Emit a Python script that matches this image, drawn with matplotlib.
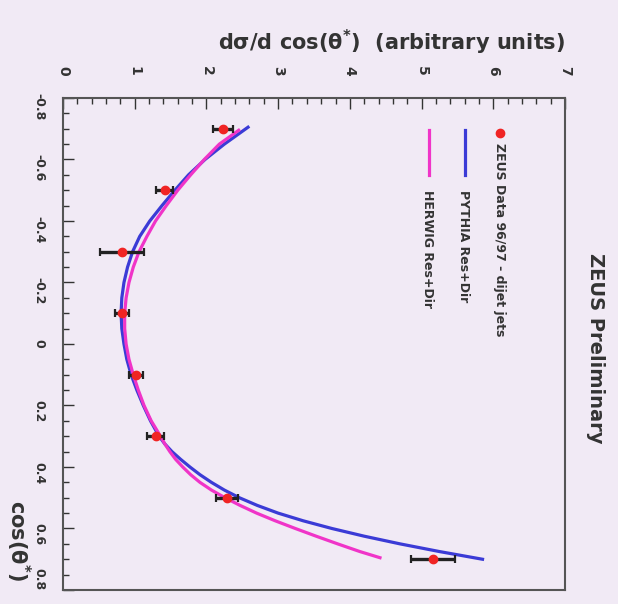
import numpy as np
import matplotlib
matplotlib.use("Agg")
import matplotlib.pyplot as plt
from matplotlib.ticker import MultipleLocator

plt.rcParams['font.family'] = ['DejaVu Sans']
plt.rcParams['font.weight'] = 'bold'
plt.rcParams['mathtext.default'] = 'bf'

# --- data (cos theta*, dsigma/dcos) -----------------------------------------
data_cos = [-0.7, -0.5, -0.3, -0.1, 0.1, 0.3, 0.5, 0.7]
data_val = [2.23, 1.42, 0.82, 0.82, 1.02, 1.29, 2.29, 5.16]
data_err = [0.14, 0.12, 0.31, 0.10, 0.10, 0.12, 0.15, 0.31]

pythia_cos = [-0.705, -0.65, -0.60, -0.55, -0.50, -0.45, -0.40, -0.35, -0.30, -0.25,
              -0.20, -0.15, -0.10, -0.05, 0.00, 0.05, 0.10, 0.15, 0.20, 0.25,
              0.30, 0.325, 0.35, 0.375, 0.40, 0.425, 0.45, 0.475, 0.50, 0.525,
              0.55, 0.575, 0.60, 0.625, 0.65, 0.675, 0.70]
pythia_val = [2.58, 2.25, 1.98, 1.75, 1.56, 1.38, 1.21, 1.07, 0.97, 0.90,
              0.85, 0.82, 0.81, 0.82, 0.85, 0.89, 0.95, 1.03, 1.12, 1.22,
              1.34, 1.42, 1.52, 1.64, 1.77, 1.91, 2.07, 2.25, 2.46, 2.71,
              3.00, 3.35, 3.75, 4.20, 4.70, 5.25, 5.85]

herwig_cos = [-0.695, -0.65, -0.60, -0.55, -0.50, -0.45, -0.40, -0.35, -0.30, -0.25,
              -0.20, -0.15, -0.10, -0.05, 0.00, 0.05, 0.10, 0.15, 0.20, 0.25,
              0.30, 0.325, 0.35, 0.375, 0.40, 0.425, 0.45, 0.475, 0.50, 0.525,
              0.55, 0.575, 0.60, 0.625, 0.65, 0.675, 0.695]
herwig_val = [2.45, 2.18, 1.97, 1.78, 1.60, 1.44, 1.29, 1.17, 1.06, 0.98,
              0.92, 0.88, 0.86, 0.86, 0.88, 0.92, 0.98, 1.05, 1.13, 1.23,
              1.36, 1.42, 1.49, 1.57, 1.67, 1.78, 1.91, 2.07, 2.26, 2.47,
              2.70, 2.96, 3.24, 3.53, 3.83, 4.14, 4.42]

bg = '#f1eaf5'
ink = '#333333'
c_blue = '#3b3bd6'
c_pink = '#f034c8'
c_red = '#f02424'

fig = plt.figure(figsize=(6.18, 6.04), dpi=100, facecolor=bg)
ax = fig.add_axes([63 / 618, 1 - 590 / 604, 502 / 618, 492 / 604], facecolor=bg)

# figure is drawn rotated: dsigma runs left->right, cos runs top->bottom
ax.plot(pythia_val, pythia_cos, color=c_blue, lw=2.3, zorder=3)
ax.plot(herwig_val, herwig_cos, color=c_pink, lw=2.3, zorder=3)
ax.errorbar(data_val, data_cos, xerr=data_err, fmt='none', ecolor='#222222',
            elinewidth=2.4, capsize=3, capthick=1.6, zorder=4)
ax.plot(data_val, data_cos, 'o', color=c_red, ms=6, zorder=5)

ax.set_xlim(0, 7)
ax.set_ylim(0.8, -0.8)
ax.xaxis.tick_top()
ax.xaxis.set_major_locator(MultipleLocator(1))
ax.xaxis.set_minor_locator(MultipleLocator(0.2))
ax.yaxis.set_minor_locator(MultipleLocator(0.05))
ax.set_yticks(np.arange(-0.8, 0.81, 0.2))
ax.set_yticklabels(['-0.8', '-0.6', '-0.4', '-0.2', '0', '0.2', '0.4', '0.6', '0.8'])
ax.tick_params(which='both', direction='in', color=ink, width=1.0)
ax.tick_params(which='major', length=8)
ax.tick_params(which='minor', length=4)
ax.tick_params(axis='x', labelrotation=-90, pad=16, labelsize=10, labelcolor=ink)
ax.tick_params(axis='y', labelrotation=-90, pad=13, labelsize=9, labelcolor=ink)
# last label sits at the page edge; keep it inside
ax.get_yticklabels()[-1].set_va('bottom')
for s in ax.spines.values():
    s.set_color('#555555')
    s.set_linewidth(1.5)

fig.text(565 / 618, 1 - 42 / 604, r'd$\sigma$/d cos($\theta^{*}$)  (arbitrary units)',
         ha='right', va='center', fontsize=15, color=ink)
fig.text(18 / 618, 1 - 500 / 604, r'cos($\theta^{*}$)', rotation=-90,
         ha='center', va='top', fontsize=15, color=ink)
fig.text(595 / 618, 1 - 348 / 604, 'ZEUS Preliminary', rotation=-90,
         ha='center', va='center', fontsize=14, color=ink)

# legend (drawn by hand, rotated)
ax.plot([0.870], [0.929], 'o', color=c_red, ms=6, transform=ax.transAxes)
ax.text(0.870, 0.909, 'ZEUS Data 96/97 - dijet jets', rotation=-90, ha='center',
        va='top', fontsize=9, color=ink, transform=ax.transAxes)
ax.plot([0.801, 0.801], [0.935, 0.843], color=c_blue, lw=2.3, transform=ax.transAxes)
ax.text(0.797, 0.813, 'PYTHIA Res+Dir', rotation=-90, ha='center', va='top',
        fontsize=9, color=ink, transform=ax.transAxes)
ax.plot([0.729, 0.729], [0.935, 0.843], color=c_pink, lw=2.3, transform=ax.transAxes)
ax.text(0.727, 0.813, 'HERWIG Res+Dir', rotation=-90, ha='center', va='top',
        fontsize=9, color=ink, transform=ax.transAxes)

fig.savefig('out.png', dpi=100, facecolor=bg)
